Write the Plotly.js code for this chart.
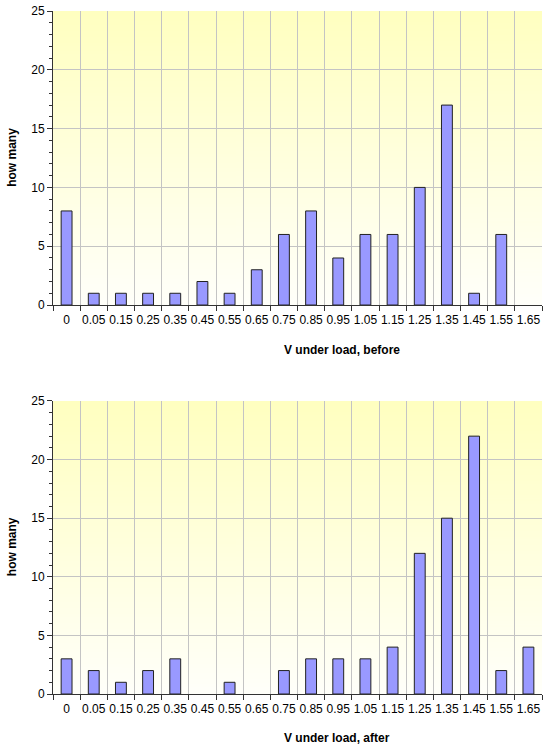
<!DOCTYPE html>
<html>
<head>
<meta charset="utf-8">
<script src="https://cdn.plot.ly/plotly-3.0.1.min.js"></script>
<style>html,body{margin:0;padding:0;background:#fff;}#chart{width:550px;height:750px;}</style>
</head>
<body>
<div id="chart"></div>
<script>
const categories = ["0","0.05","0.15","0.25","0.35","0.45","0.55","0.65","0.75","0.85","0.95","1.05","1.15","1.25","1.35","1.45","1.55","1.65"];
const countsBefore = [8,1,1,1,1,2,1,3,6,8,4,6,6,10,17,1,6,0];
const countsAfter  = [3,2,1,2,3,0,1,0,2,3,3,3,4,12,15,22,2,4];
const xTitleBefore = "V under load, before";
const xTitleAfter = "V under load, after";
const yTitle = "how many";

// gradient background image
const cv = document.createElement('canvas');
cv.width = 4; cv.height = 200;
const ctx = cv.getContext('2d');
const g = ctx.createLinearGradient(0,0,0,200);
g.addColorStop(0,'#ffffc0');
g.addColorStop(1,'#fffffa');
ctx.fillStyle = g; ctx.fillRect(0,0,4,200);
const bgUrl = cv.toDataURL();

function barStyle(vals){
  return {color:'#9999ff', line:{color:'#222222', width:vals.map(v => v > 0 ? 1 : 0)}};
}
const traces = [
  {type:'bar', x:categories, y:countsBefore, xaxis:'x', yaxis:'y', marker:barStyle(countsBefore), hoverinfo:'x+y'},
  {type:'bar', x:categories, y:countsAfter, xaxis:'x2', yaxis:'y2', marker:barStyle(countsAfter), hoverinfo:'x+y'}
];

const font = {family:'Arial, "Liberation Sans", sans-serif', size:12, color:'#000'};
function xAx(anchor){
  return {type:'category', categoryorder:'array', categoryarray:categories, anchor:anchor,
    tickson:'boundaries', ticks:'outside', ticklen:5, tickcolor:'#333', tickwidth:1, tickangle:0,
    ticklabelstandoff:4,
    showgrid:true, gridcolor:'#c4c4c4', gridwidth:1, showline:true, linecolor:'#333', linewidth:1,
    tickfont:font, fixedrange:true, zeroline:false, range:[-0.5,17.5]};
}
function yAx(anchor, domain){
  return {domain:domain, anchor:anchor, range:[0,25], dtick:5, tick0:0, ticks:'outside', ticklen:5,
    tickcolor:'#333', showgrid:true, gridcolor:'#c4c4c4', gridwidth:1, showline:true, linecolor:'#333',
    linewidth:1, zeroline:false, tickfont:font,
    minor:{dtick:1, ticks:'outside', ticklen:3, tickcolor:'#333', showgrid:false}};
}
const bold = {family:'Arial, "Liberation Sans", sans-serif', size:12, color:'#000', weight:'bold'};
const layout = {
  width:550, height:750, showlegend:false,
  margin:{l:53, r:8, t:11, b:56},
  paper_bgcolor:'#ffffff', plot_bgcolor:'rgba(0,0,0,0)',
  bargap:0.6,
  xaxis:xAx('y'), yaxis:yAx('x',[0.5695,1]),
  xaxis2:xAx('y2'), yaxis2:yAx('x2',[0,0.429]),
  images:[
    {source:bgUrl, xref:'x domain', yref:'y domain', x:0, y:1, sizex:1, sizey:1, sizing:'stretch', xanchor:'left', yanchor:'top', layer:'below'},
    {source:bgUrl, xref:'x2 domain', yref:'y2 domain', x:0, y:1, sizex:1, sizey:1, sizing:'stretch', xanchor:'left', yanchor:'top', layer:'below'}
  ],
  annotations:[
    {text:'<b>'+xTitleBefore+'</b>', xref:'paper', yref:'paper', x:0.468, y:0.5037, xanchor:'left', yanchor:'middle', showarrow:false, font:bold},
    {text:'<b>'+xTitleAfter+'</b>', xref:'paper', yref:'paper', x:0.468, y:-0.0644, xanchor:'left', yanchor:'middle', showarrow:false, font:bold},
    {text:'<b>'+yTitle+'</b>', xref:'paper', yref:'paper', x:-0.0838, y:0.785, xanchor:'center', yanchor:'middle', textangle:-90, showarrow:false, font:bold},
    {text:'<b>'+yTitle+'</b>', xref:'paper', yref:'paper', x:-0.0838, y:0.215, xanchor:'center', yanchor:'middle', textangle:-90, showarrow:false, font:bold}
  ]
};
Plotly.newPlot('chart', traces, layout, {displayModeBar:false, staticPlot:true});
</script>
</body>
</html>
